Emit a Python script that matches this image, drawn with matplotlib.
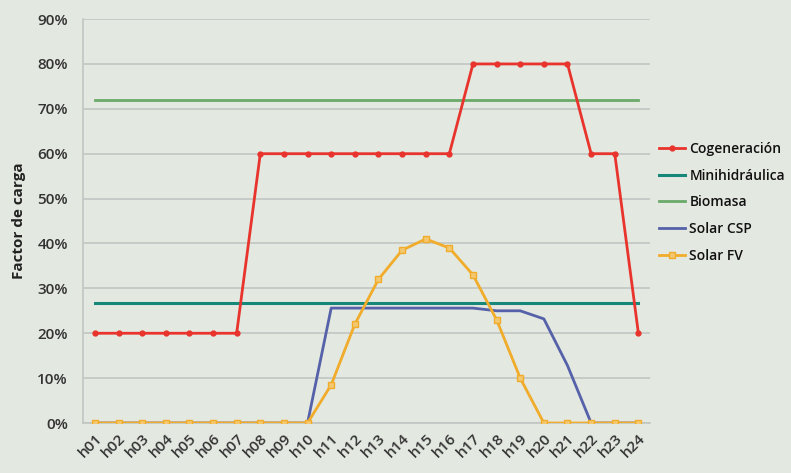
import numpy as np
import matplotlib.pyplot as plt
from matplotlib.lines import Line2D

plt.rcParams['font.family'] = ['Open Sans', 'DejaVu Sans']

# Datos (factor de carga por hora, %)
horas = ['h%02d' % i for i in range(1, 25)]
cogeneracion = [20, 20, 20, 20, 20, 20, 20, 60, 60, 60, 60, 60, 60, 60, 60, 60,
                80, 80, 80, 80, 80, 60, 60, 20]
minihidraulica = [26.7] * 24
biomasa = [71.9] * 24
solar_csp = [0, 0, 0, 0, 0, 0, 0, 0, 0, 0, 25.6, 25.6, 25.6, 25.6, 25.6, 25.6,
             25.6, 25.0, 25.0, 23.2, 12.8, 0, 0, 0]
solar_fv = [0, 0, 0, 0, 0, 0, 0, 0, 0, 0, 8.5, 22, 32, 38.5, 41, 39,
            33, 23, 10, 0, 0, 0, 0, 0]

bg = '#e3e8e1'
fig = plt.figure(figsize=(7.91, 4.73), dpi=100, facecolor=bg)
ax = fig.add_axes([0.105, 0.1057, 0.717, 0.854], facecolor=bg)

x = np.arange(1, 25)
ax.plot(x, biomasa, color='#6aaa6a', lw=2, zorder=3)
ax.plot(x, cogeneracion, color='#e8342c', lw=2, marker='o', ms=3.5, zorder=4)
ax.plot(x, minihidraulica, color='#15887a', lw=2.2, zorder=3)
ax.plot(x, solar_csp, color='#5561a8', lw=2, zorder=3)
ax.plot(x, solar_fv, color='#f0ac2a', lw=2, marker='s', ms=5,
        mfc='#f3c870', mec='#f0ac2a', mew=1, zorder=5)

ax.set_xlim(0.5, 24.5)
ax.set_ylim(0, 90)
ax.set_yticks(np.arange(0, 91, 10))
ax.set_yticklabels(['%d%%' % v for v in range(0, 91, 10)])
ax.set_xticks(x)
ax.set_xticklabels(horas, rotation=45, ha='right', rotation_mode='anchor')
ax.tick_params(axis='both', length=0, labelsize=11, labelcolor='#333333')
ax.tick_params(axis='y', pad=11)
ax.tick_params(axis='x', pad=6)
for lab in ax.get_xticklabels() + ax.get_yticklabels():
    lab.set_fontweight('semibold')
ax.grid(axis='y', color='#c2c6c2', lw=1.2)
ax.set_axisbelow(True)
for s in ['top', 'right']:
    ax.spines[s].set_visible(False)
ax.spines['left'].set_color('#c2c6c2')
ax.spines['bottom'].set_color('#c2c6c2')
ax.spines['left'].set_linewidth(1.2)
ax.spines['bottom'].set_linewidth(1.2)
ax.set_ylabel('Factor de carga', fontsize=11, fontweight='bold', color='#222222', labelpad=8)

handles = [
    Line2D([], [], color='#e8342c', lw=2, marker='o', ms=3.5),
    Line2D([], [], color='#15887a', lw=2.2),
    Line2D([], [], color='#6aaa6a', lw=2),
    Line2D([], [], color='#5561a8', lw=2),
    Line2D([], [], color='#f0ac2a', lw=2, marker='s', ms=5, mfc='#f3c870'),
]
labels = ['Cogeneración', 'Minihidráulica', 'Biomasa', 'Solar CSP', 'Solar FV']
leg = fig.legend(handles, labels, loc='upper left', bbox_to_anchor=(0.826, 0.712),
                 frameon=False, fontsize=10, handlelength=1.85, handletextpad=0.35,
                 labelspacing=0.92, borderaxespad=0)
for t in leg.get_texts():
    t.set_fontweight('semibold')
    t.set_color('#111111')

fig.savefig('out.png', dpi=100, facecolor=bg)
